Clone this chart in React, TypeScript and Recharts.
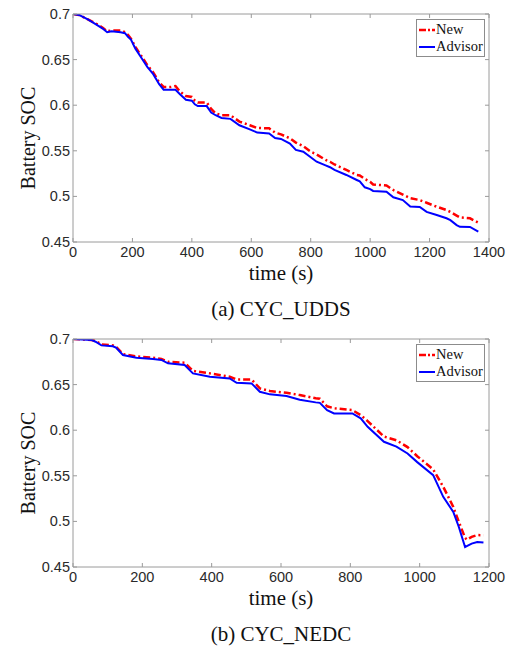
import React from "react";
import { LineChart, Line, XAxis, YAxis } from "recharts";

// ---- CYC_UDDS ----
const uddsTime = [0, 20, 50, 80, 100, 115, 130, 160, 175, 185, 195, 210, 230, 250, 270, 290, 305, 330, 345, 360, 380, 400, 410, 420, 450, 465, 480, 500, 530, 560, 595, 620, 660, 680, 700, 730, 750, 775, 800, 820, 850, 865, 880, 920, 955, 965, 982, 1000, 1010, 1055, 1078, 1110, 1135, 1167, 1190, 1224, 1257, 1270, 1291, 1302, 1336, 1364];
const uddsAdvisor = [0.7, 0.699, 0.694, 0.688, 0.684, 0.68, 0.681, 0.68, 0.679, 0.675, 0.672, 0.662, 0.652, 0.642, 0.634, 0.623, 0.617, 0.617, 0.617, 0.612, 0.606, 0.605, 0.601, 0.599, 0.599, 0.592, 0.589, 0.586, 0.585, 0.578, 0.5735, 0.57, 0.569, 0.564, 0.563, 0.558, 0.551, 0.549, 0.543, 0.538, 0.534, 0.532, 0.529, 0.5235, 0.518, 0.5165, 0.51, 0.508, 0.506, 0.505, 0.499, 0.496, 0.489, 0.4885, 0.483, 0.4796, 0.476, 0.474, 0.4686, 0.4667, 0.4665, 0.4613];
const uddsNew = [0.7, 0.699, 0.694, 0.689, 0.685, 0.681, 0.682, 0.682, 0.68, 0.677, 0.673, 0.664, 0.654, 0.644, 0.636, 0.625, 0.62, 0.62, 0.621, 0.615, 0.61, 0.609, 0.605, 0.603, 0.603, 0.596, 0.591, 0.589, 0.589, 0.582, 0.578, 0.575, 0.5747, 0.57, 0.568, 0.5637, 0.559, 0.555, 0.549, 0.546, 0.54, 0.538, 0.535, 0.529, 0.5235, 0.523, 0.519, 0.516, 0.513, 0.512, 0.507, 0.502, 0.498, 0.496, 0.493, 0.4887, 0.485, 0.483, 0.479, 0.477, 0.476, 0.4712];
const uddsXTicks = [0, 200, 400, 600, 800, 1000, 1200, 1400];

// ---- CYC_NEDC ----
const nedcTime = [0, 53, 65, 82, 115, 124, 144, 183, 231, 255, 274, 322, 346, 395, 452, 472, 515, 539, 568, 616, 654, 700, 712, 733, 753, 806, 830, 850, 897, 933, 965, 993, 1039, 1068, 1097, 1113, 1131, 1136, 1150, 1166, 1184];
const nedcAdvisor = [0.7, 0.699, 0.697, 0.693, 0.692, 0.6905, 0.6825, 0.6795, 0.678, 0.677, 0.6733, 0.6715, 0.6623, 0.6586, 0.6568, 0.652, 0.6513, 0.6421, 0.6393, 0.6374, 0.6335, 0.6305, 0.63, 0.622, 0.6184, 0.6184, 0.613, 0.6037, 0.5873, 0.582, 0.5745, 0.565, 0.5507, 0.5269, 0.5104, 0.4939, 0.472, 0.473, 0.4757, 0.4774, 0.4768];
const nedcNew = [0.7, 0.699, 0.698, 0.694, 0.693, 0.6915, 0.6835, 0.681, 0.6795, 0.678, 0.675, 0.674, 0.665, 0.6623, 0.6586, 0.6557, 0.6557, 0.6458, 0.643, 0.641, 0.6385, 0.635, 0.6346, 0.6262, 0.624, 0.622, 0.6166, 0.61, 0.593, 0.589, 0.5815, 0.5715, 0.557, 0.538, 0.5159, 0.4995, 0.482, 0.48, 0.483, 0.485, 0.4848];
const nedcXTicks = [0, 200, 400, 600, 800, 1000, 1200];

const yTicks = [0.45, 0.5, 0.55, 0.6, 0.65, 0.7];
const seriesNames = ["New", "Advisor"];

const AXIS = "#9a9a9a";
const TICK_FONT = "'Liberation Sans', Arial, sans-serif";
const SERIF = "'Liberation Serif', 'Times New Roman', serif";

const fmt = (v: number) => String(Number(v.toFixed(2)));

const LeftTick = (p: any) => (
  <g>
    <line x1={p.x} x2={p.x + 4} y1={p.y} y2={p.y} stroke={AXIS} />
    <text x={p.x - 3} y={p.y} dy="0.35em" textAnchor="end" fontSize={14.5} fontFamily={TICK_FONT} fill="#2a2a2a">
      {fmt(p.payload.value)}
    </text>
  </g>
);
const BottomTick = (p: any) => (
  <g>
    <line x1={p.x} x2={p.x} y1={p.y} y2={p.y - 4} stroke={AXIS} />
    <text x={p.x} y={p.y + 10} dy="0.35em" textAnchor="middle" fontSize={14.5} fontFamily={TICK_FONT} fill="#2a2a2a">
      {p.payload.value}
    </text>
  </g>
);
const TopTick = (p: any) => <line x1={p.x} x2={p.x} y1={p.y} y2={p.y + 4} stroke={AXIS} />;
const RightTick = (p: any) => <line x1={p.x} x2={p.x - 4} y1={p.y} y2={p.y} stroke={AXIS} />;

const LegendBox = () => (
  <div
    style={{
      position: "absolute",
      left: 416,
      top: 19,
      border: "1px solid #8c8c8c",
      background: "#fff",
      width: 67,
      height: 35,
      fontFamily: SERIF,
      fontSize: 14.5,
      color: "#111",
      lineHeight: "17px",
      paddingTop: 1,
      whiteSpace: "nowrap",
    }}
  >
    <div style={{ display: "flex", alignItems: "center", height: 17 }}>
      <svg width={16} height={6} style={{ marginLeft: 2, marginRight: 1 }}>
        <line x1={0} x2={16} y1={3} y2={3} stroke="#ff0000" strokeWidth={2.5} strokeDasharray="7 2 2 2" />
      </svg>
      <span>{seriesNames[0]}</span>
    </div>
    <div style={{ display: "flex", alignItems: "center", height: 17 }}>
      <svg width={16} height={6} style={{ marginLeft: 2, marginRight: 1 }}>
        <line x1={0} x2={16} y1={3} y2={3} stroke="#0000ff" strokeWidth={2} />
      </svg>
      <span>{seriesNames[1]}</span>
    </div>
  </div>
);

function Panel(props: { time: number[]; adv: number[]; nw: number[]; xMax: number; xTicks: number[]; caption: string; top: number }) {
  const { time, adv, nw, xMax, xTicks, caption, top } = props;
  const data = time.map((t, i) => ({ t, New: nw[i], Advisor: adv[i] }));
  return (
    <div style={{ position: "absolute", left: 0, top, width: 511, height: 322 }}>
      <LineChart width={511} height={272} data={data} margin={{ top: 13, right: 21, bottom: 0, left: 0 }}>
        <XAxis
          dataKey="t"
          type="number"
          domain={[0, xMax]}
          ticks={xTicks}
          allowDataOverflow
          height={30}
          tickSize={0}
          tickMargin={0}
          stroke={AXIS}
          tick={<BottomTick />}
        />
        <XAxis
          xAxisId="top"
          dataKey="t"
          orientation="top"
          type="number"
          domain={[0, xMax]}
          ticks={xTicks}
          allowDataOverflow
          height={1}
          tickSize={0}
          tickMargin={0}
          stroke={AXIS}
          tick={<TopTick />}
        />
        <YAxis
          type="number"
          domain={[0.45, 0.7]}
          ticks={yTicks}
          allowDataOverflow
          width={73}
          tickSize={0}
          tickMargin={0}
          stroke={AXIS}
          tick={<LeftTick />}
        />
        <YAxis
          yAxisId="right"
          orientation="right"
          type="number"
          domain={[0.45, 0.7]}
          ticks={yTicks}
          allowDataOverflow
          width={1}
          tickSize={0}
          tickMargin={0}
          stroke={AXIS}
          tick={<RightTick />}
        />
        <Line type="linear" dataKey="New" stroke="#ff0000" strokeWidth={2.5} strokeDasharray="7 3 2 3" dot={false} isAnimationActive={false} />
        <Line type="linear" dataKey="Advisor" stroke="#0000ff" strokeWidth={2} dot={false} isAnimationActive={false} />
      </LineChart>
      <LegendBox />
      <div
        style={{
          position: "absolute",
          left: 28,
          top: 138,
          transform: "translate(-50%, -50%) rotate(-90deg)",
          fontFamily: SERIF,
          fontSize: 20,
          whiteSpace: "nowrap",
          color: "#111",
        }}
      >
        Battery SOC
      </div>
      <div
        style={{
          position: "absolute",
          left: 281,
          top: 273,
          transform: "translate(-50%, -50%)",
          fontFamily: SERIF,
          fontSize: 21,
          whiteSpace: "nowrap",
          color: "#111",
        }}
      >
        time (s)
      </div>
      <div
        style={{
          position: "absolute",
          left: 281,
          top: 309,
          transform: "translate(-50%, -50%)",
          fontFamily: SERIF,
          fontSize: 21,
          whiteSpace: "nowrap",
          color: "#111",
        }}
      >
        {caption}
      </div>
    </div>
  );
}

export default function App() {
  return (
    <div style={{ position: "absolute", left: 0, top: 0, width: 511, height: 647, background: "#fff", overflow: "hidden" }}>
      <Panel time={uddsTime} adv={uddsAdvisor} nw={uddsNew} xMax={1400} xTicks={uddsXTicks} caption="(a) CYC_UDDS" top={0} />
      <Panel time={nedcTime} adv={nedcAdvisor} nw={nedcNew} xMax={1200} xTicks={nedcXTicks} caption="(b) CYC_NEDC" top={325} />
    </div>
  );
}
